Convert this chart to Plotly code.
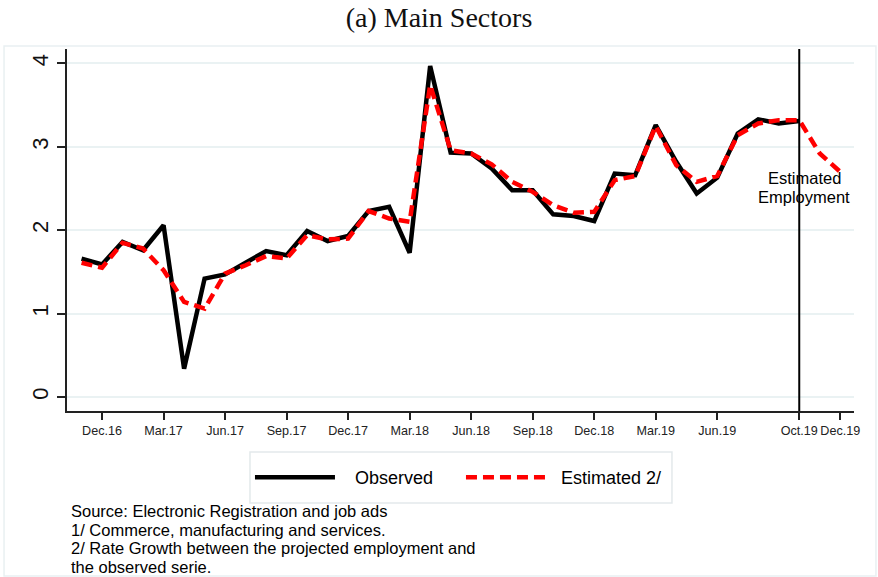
import plotly.graph_objects as go

# ---- data (month index: 0 = Nov.16, monthly steps) ----
obs_months = list(range(0, 36))          # Nov.16 .. Oct.19
est_months = list(range(0, 38))          # Nov.16 .. Dec.19

observed = [1.66, 1.59, 1.86, 1.76, 2.06, 0.34, 1.42, 1.47, 1.61, 1.75,
            1.70, 1.99, 1.87, 1.93, 2.23, 2.28, 1.73, 3.97, 2.93, 2.92,
            2.74, 2.48, 2.48, 2.19, 2.17, 2.11, 2.68, 2.66, 3.26, 2.82,
            2.44, 2.63, 3.16, 3.33, 3.28, 3.31]

estimated = [1.61, 1.55, 1.85, 1.78, 1.52, 1.14, 1.06, 1.48, 1.58, 1.69,
             1.66, 1.94, 1.89, 1.90, 2.23, 2.14, 2.10, 3.74, 2.96, 2.92,
             2.79, 2.58, 2.46, 2.30, 2.21, 2.22, 2.60, 2.65, 3.25, 2.78,
             2.58, 2.65, 3.14, 3.28, 3.32, 3.32, 2.92, 2.70]

tick_months = [1, 4, 7, 10, 13, 16, 19, 22, 25, 28, 31, 35, 37]
tick_labels = ["Dec.16", "Mar.17", "Jun.17", "Sep.17", "Dec.17", "Mar.18",
               "Jun.18", "Sep.18", "Dec.18", "Mar.19", "Jun.19", "Oct.19", "Dec.19"]

y_ticks = [0, 1, 2, 3, 4]
cutoff_month = 35  # Oct.19

title_text = "(a) Main Sectors"
note_lines = ["Source: Electronic Registration and job ads",
              "1/ Commerce, manufacturing and services.",
              "2/ Rate Growth between the projected employment and",
              "the observed serie."]

SANS = "Liberation Sans, Arial, sans-serif"
NB = "\u00a0"

fig = go.Figure()
fig.add_trace(go.Scatter(x=obs_months, y=observed, mode="lines", name=NB * 3 + "Observed",
                         line=dict(color="black", width=4.5)))
fig.add_trace(go.Scatter(x=est_months, y=estimated, mode="lines", name=NB * 2 + "Estimated 2/",
                         line=dict(color="#ff0000", width=4.5, dash="11px,6px")))

# vertical cutoff line
fig.add_shape(type="line", xref="x", yref="paper", x0=cutoff_month, x1=cutoff_month,
              y0=0, y1=1, line=dict(color="black", width=2))

# faint outer frame of the graph region
fig.add_shape(type="rect", xref="paper", yref="paper",
              x0=-0.0800, x1=1.0279, y0=-0.456, y1=1.0083,
              line=dict(color="#e9f0f2", width=1.5), layer="below")

# legend frame
fig.add_shape(type="rect", xref="paper", yref="paper",
              x0=0.2325, x1=0.7687, y0=-0.254, y1=-0.1133,
              line=dict(color="#e3e9eb", width=1.5), fillcolor="rgba(0,0,0,0)", layer="below")

fig.add_annotation(x=cutoff_month, y=2.625, xref="x", yref="y", text="Estimated",
                   showarrow=False, xshift=5,
                   font=dict(family=SANS, size=16.5, color="black"))
fig.add_annotation(x=cutoff_month, y=2.403, xref="x", yref="y", text="Employment",
                   showarrow=False, xshift=5,
                   font=dict(family=SANS, size=16.5, color="black"))

# notes
for i, line in enumerate(note_lines):
    fig.add_annotation(x=0.003, y=-0.2776 - i * 0.0511, xref="paper", yref="paper",
                       text=line, showarrow=False, xanchor="left", yanchor="middle",
                       font=dict(family=SANS, size=16.5, color="black"))

fig.update_layout(
    width=878, height=577,
    margin=dict(l=67, r=24, t=49, b=166),
    paper_bgcolor="white", plot_bgcolor="white",
    title=dict(text=title_text, x=0.5, xanchor="center", y=0.97, yanchor="middle",
               xref="container", yref="container",
               font=dict(family="Liberation Serif, DejaVu Serif, serif", size=28, color="#111")),
    showlegend=True,
    legend=dict(orientation="h", x=0.5006, xanchor="center", y=-0.1837, yanchor="middle",
                borderwidth=0, bgcolor="rgba(0,0,0,0)",
                entrywidth=116, itemwidth=80,
                font=dict(family=SANS, size=18, color="black")),
    xaxis=dict(range=[-0.71, 37.67], tickmode="array", tickvals=tick_months,
               ticktext=tick_labels, showgrid=False, zeroline=False, automargin=False,
               showline=True, linecolor="#222", linewidth=1.5,
               ticks="outside", ticklen=7, tickwidth=1.5, tickcolor="#222",
               tickfont=dict(family=SANS, size=12.6, color="#222")),
    yaxis=dict(range=[-0.168, 4.173], tickmode="array", tickvals=y_ticks,
               showgrid=True, gridcolor="#eaf2f3", gridwidth=1.5, zeroline=False,
               automargin=False,
               showline=True, linecolor="#222", linewidth=1.5,
               ticks="outside", ticklen=8, tickwidth=1.5, tickcolor="#222",
               tickangle=-90, ticklabelstandoff=0,
               tickfont=dict(family=SANS, size=22, color="#111")),
)

fig.write_html("out.html", config={"displayModeBar": False},
               post_script="document.body.style.margin='0';")
